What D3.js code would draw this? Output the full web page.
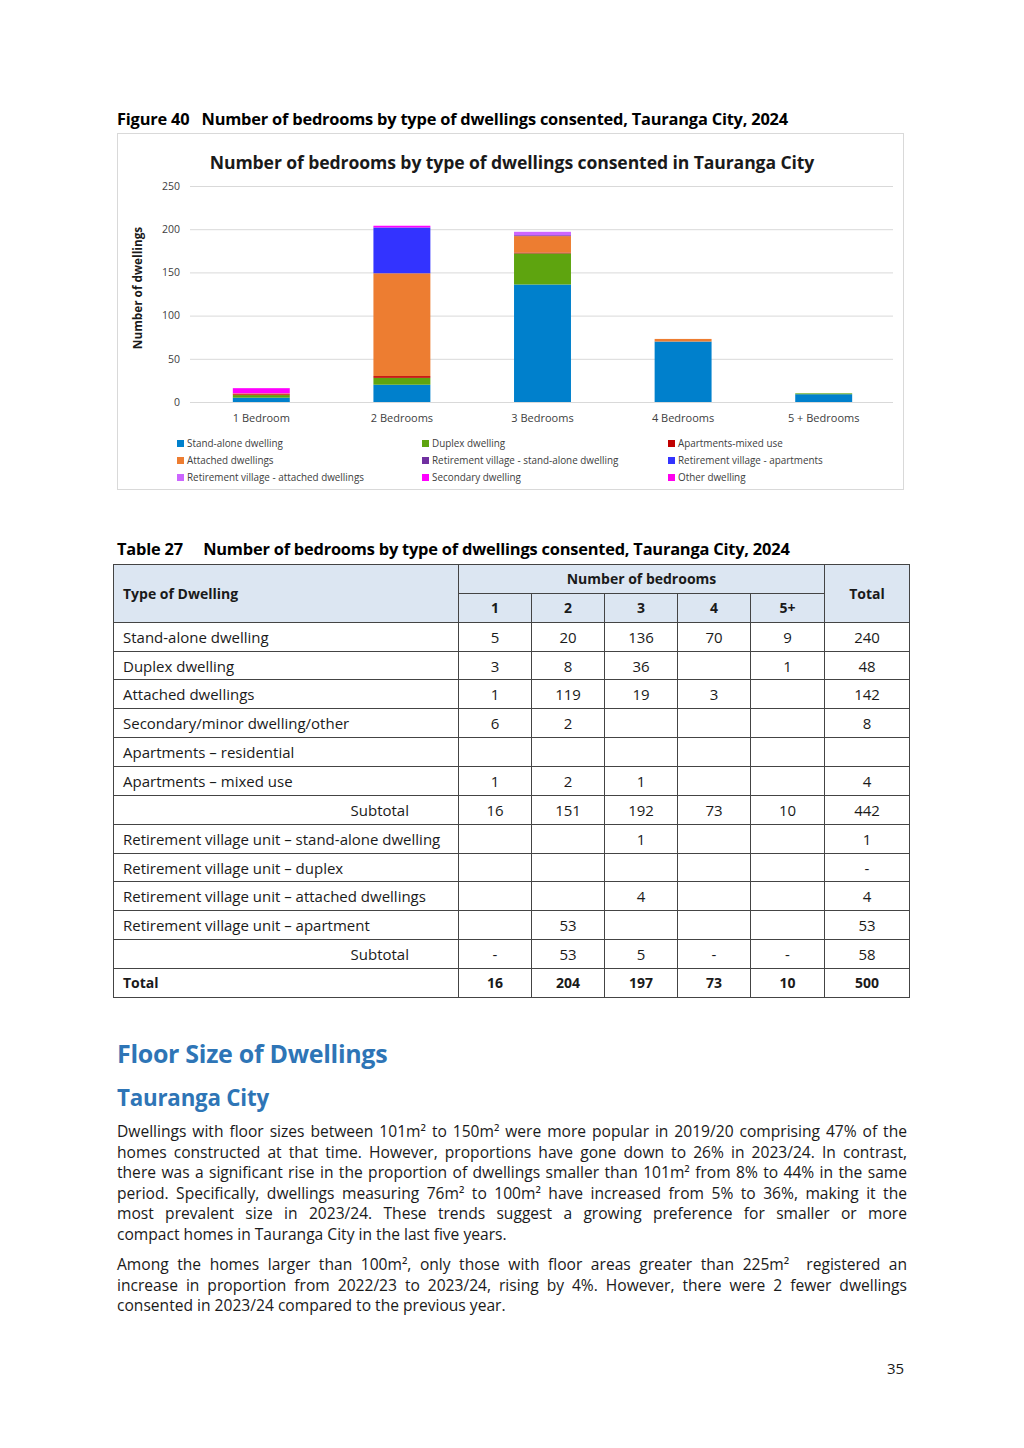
<!DOCTYPE html>
<html>
<head>
<meta charset="utf-8">
<script src="https://cdn.jsdelivr.net/npm/d3@7"></script>
<style>
  body { margin: 0; background: #fff; }
  #page { position: relative; width: 1024px; height: 1448px; font-family: "Open Sans", sans-serif; color: #1a1a1a; overflow: hidden; }
  .abs { position: absolute; white-space: nowrap; }
  .caption { font-weight: 700; font-size: 16.4px; letter-spacing: -0.2px; color: #000; }
  table { border-collapse: collapse; table-layout: fixed; }
  td { border: 1px solid #444; height: 27.87px; padding: 0; font-size: 15px; text-align: center; }
  td.lab { text-align: left; padding-left: 9px; }
  td.sub { text-align: right; padding-right: 49px; }
  td.hd { background: #dce6f2; font-weight: 700; font-size: 14px; }
  tr.tot td { font-weight: 700; font-size: 14px; }
  .h1 { color: #2e75b6; font-weight: 700; font-size: 25px; letter-spacing: -0.3px; }
  .h2 { color: #2e75b6; font-weight: 700; font-size: 22.3px; letter-spacing: -0.2px; }
  .line { width: 790px; font-size: 15.6px; text-align: justify; text-align-last: justify; white-space: nowrap; height: 20.5px; line-height: 20.5px; }
  .line.last { text-align-last: left; }
</style>
</head>
<body>
<div id="page">
  <div class="abs caption" style="left:117px; top:107px;">Figure 40&nbsp;&nbsp;&nbsp;Number of bedrooms by type of dwellings consented, Tauranga City, 2024</div>
  <div class="abs caption" style="left:117px; top:537px;">Table 27&nbsp;&nbsp;&nbsp;&nbsp;&nbsp;Number of bedrooms by type of dwellings consented, Tauranga City, 2024</div>
  <svg id="chart" class="abs" style="left:0; top:0;" width="1024" height="500"></svg>
  <div id="tbl" class="abs" style="left:113px; top:564px;"></div>
  <div class="abs h1" style="left:117px; top:1036px;">Floor Size of Dwellings</div>
  <div class="abs h2" style="left:117px; top:1082px;">Tauranga City</div>
  <div id="para" class="abs" style="left:117px; top:1121px;"></div>
  <div class="abs" style="left:887px; top:1358px; font-size:15px;">35</div>
</div>
<script>
// chart data
var categories = ["1 Bedroom", "2 Bedrooms", "3 Bedrooms", "4 Bedrooms", "5 + Bedrooms"]
var standAlone = [5, 20, 136, 70, 9]
var duplex = [3, 8, 36, 0, 1]
var aptMixed = [1, 2, 1, 0, 0]
var attached = [1, 119, 19, 3, 0]
var rvStandAlone = [0, 0, 1, 0, 0]
var rvApartments = [0, 53, 0, 0, 0]
var rvAttached = [0, 0, 4, 0, 0]
var secondary = [6, 2, 0, 0, 0]
var other = [0, 0, 0, 0, 0]
var yTicks = [0, 50, 100, 150, 200, 250]

var seriesNames = ["Stand-alone dwelling", "Duplex dwelling", "Apartments-mixed use",
    "Attached dwellings", "Retirement village - stand-alone dwelling", "Retirement village - apartments",
    "Retirement village - attached dwellings", "Secondary dwelling", "Other dwelling"]
var seriesValues = [standAlone, duplex, aptMixed, attached, rvStandAlone, rvApartments, rvAttached, secondary, other]
var seriesColors = ["#0080cc", "#5ea40f", "#c00000", "#ed7d31", "#7030a0", "#3333ff", "#cc66ff", "#ff00ff", "#ff00ee"]

// table data
var tableRows = ["Stand-alone dwelling", "Duplex dwelling", "Attached dwellings", "Secondary/minor dwelling/other",
    "Apartments \u2013 residential", "Apartments \u2013 mixed use", "Subtotal",
    "Retirement village unit \u2013 stand-alone dwelling", "Retirement village unit \u2013 duplex",
    "Retirement village unit \u2013 attached dwellings", "Retirement village unit \u2013 apartment", "Subtotal", "Total"]
var tableValues = [
    ["5", "20", "136", "70", "9", "240"],
    ["3", "8", "36", "", "1", "48"],
    ["1", "119", "19", "3", "", "142"],
    ["6", "2", "", "", "", "8"],
    ["", "", "", "", "", ""],
    ["1", "2", "1", "", "", "4"],
    ["16", "151", "192", "73", "10", "442"],
    ["", "", "1", "", "", "1"],
    ["", "", "", "", "", "-"],
    ["", "", "4", "", "", "4"],
    ["", "53", "", "", "", "53"],
    ["-", "53", "5", "-", "-", "58"],
    ["16", "204", "197", "73", "10", "500"]
]
var bedroomHeads = ["1", "2", "3", "4", "5+"]

var para1 = ["Dwellings with floor sizes between 101m\u00b2 to 150m\u00b2 were more popular in 2019/20 comprising 47% of the",
    "homes constructed at that time. However, proportions have gone down to 26% in 2023/24. In contrast,",
    "there was a significant rise in the proportion of dwellings smaller than 101m\u00b2 from 8% to 44% in the same",
    "period. Specifically, dwellings measuring 76m\u00b2 to 100m\u00b2 have increased from 5% to 36%, making it the",
    "most prevalent size in 2023/24. These trends suggest a growing preference for smaller or more",
    "compact homes in Tauranga City in the last five years."]
var para2 = ["Among the homes larger than 100m\u00b2, only those with floor areas greater than 225m\u00b2\u00a0 registered an",
    "increase in proportion from 2022/23 to 2023/24, rising by 4%. However, there were 2 fewer dwellings",
    "consented in 2023/24 compared to the previous year."]

drawChart()
drawTable()
drawText()

function drawChart() {
    var svg = d3.select("#chart")

    svg.append("rect")
        .attr("x", 117.5).attr("y", 133.5)
        .attr("width", 786).attr("height", 356)
        .attr("fill", "#fff").attr("stroke", "#d9d9d9")

    svg.append("text")
        .attr("x", 512).attr("y", 169)
        .attr("text-anchor", "middle")
        .attr("font-size", 17.6).attr("font-weight", 700)
        .attr("letter-spacing", -0.1)
        .attr("fill", "#1a1a1a")
        .text("Number of bedrooms by type of dwellings consented in Tauranga City")

    var x = d3.scaleBand().domain(categories).range([191, 894]).paddingInner(0.595).paddingOuter(0.2975)
    var y = d3.scaleLinear().domain([0, 250]).range([402, 186])

    // gridlines
    svg.append("g").selectAll("line")
        .data(yTicks)
        .enter()
        .append("line")
        .attr("x1", 190).attr("x2", 893)
        .attr("y1", function (d) { return y(d) + 0.5 })
        .attr("y2", function (d) { return y(d) + 0.5 })
        .attr("stroke", "#d9d9d9")

    var yAxis = svg.append("g")
        .attr("transform", "translate(180,0)")
        .call(d3.axisLeft(y).tickValues(yTicks).tickSize(0).tickPadding(0))
    yAxis.select(".domain").remove()
    yAxis.selectAll("text").attr("font-family", "Open Sans").attr("font-size", 10.5).attr("fill", "#404040")

    var xAxis = svg.append("g")
        .attr("transform", "translate(0,414)")
        .call(d3.axisBottom(x).tickSize(0).tickPadding(0))
    xAxis.select(".domain").remove()
    xAxis.selectAll("text").attr("font-family", "Open Sans").attr("font-size", 11).attr("fill", "#404040")

    svg.append("text")
        .attr("transform", "translate(142,288) rotate(-90)")
        .attr("text-anchor", "middle")
        .attr("font-size", 11.8).attr("font-weight", 700)
        .attr("fill", "#1a1a1a")
        .text("Number of dwellings")

    // stacked bars
    var table = categories.map(function (c, i) {
        var row = { cat: c }
        seriesNames.forEach(function (s, k) { row[s] = seriesValues[k][i] })
        return row
    })
    var stacked = d3.stack().keys(seriesNames)(table)

    svg.append("g").selectAll("g")
        .data(stacked)
        .enter()
        .append("g")
        .attr("fill", function (d, i) { return seriesColors[i] })
        .selectAll("rect")
        .data(function (d) { return d })
        .enter()
        .append("rect")
        .attr("x", function (d) { return x(d.data.cat) })
        .attr("y", function (d) { return y(d[1]) })
        .attr("width", x.bandwidth())
        .attr("height", function (d) { return y(d[0]) - y(d[1]) })

    // legend
    var legend = svg.append("g").selectAll("g")
        .data(seriesNames)
        .enter()
        .append("g")
        .attr("transform", function (d, i) {
            var col = i % 3, row = Math.floor(i / 3)
            return "translate(" + [177, 422, 668][col] + "," + (440 + row * 17) + ")"
        })
    legend.append("rect")
        .attr("width", 7).attr("height", 7)
        .attr("fill", function (d, i) { return seriesColors[i] })
    legend.append("text")
        .attr("x", 10).attr("y", 7)
        .attr("font-size", 9.9).attr("fill", "#404040")
        .text(function (d) { return d })
}

function drawTable() {
    var tbl = d3.select("#tbl").append("table")
    var colW = [345, 73, 73, 73, 73, 74, 85]
    tbl.append("colgroup").selectAll("col")
        .data(colW).enter().append("col")
        .style("width", function (d) { return d + "px" })

    var h1 = tbl.append("tr")
    h1.append("td").attr("class", "hd lab").attr("rowspan", 2).text("Type of Dwelling")
    h1.append("td").attr("class", "hd").attr("colspan", 5).text("Number of bedrooms")
    h1.append("td").attr("class", "hd").attr("rowspan", 2).text("Total")
    var h2 = tbl.append("tr")
    h2.selectAll("td").data(bedroomHeads).enter().append("td").attr("class", "hd").text(function (d) { return d })

    tableRows.forEach(function (r, i) {
        var tr = tbl.append("tr")
        if (r == "Total") tr.attr("class", "tot")
        tr.append("td")
            .attr("class", r == "Subtotal" ? "sub" : "lab")
            .text(r)
        tr.selectAll("td.v").data(tableValues[i]).enter()
            .append("td").attr("class", "v")
            .text(function (d) { return d })
    })
}

function drawText() {
    var p = d3.select("#para")
    para1.forEach(function (l, i) {
        p.append("div").attr("class", i == para1.length - 1 ? "line last" : "line").text(l)
    })
    p.append("div").style("height", "10px")
    para2.forEach(function (l, i) {
        p.append("div").attr("class", i == para2.length - 1 ? "line last" : "line").text(l)
    })
}
</script>
</body>
</html>
